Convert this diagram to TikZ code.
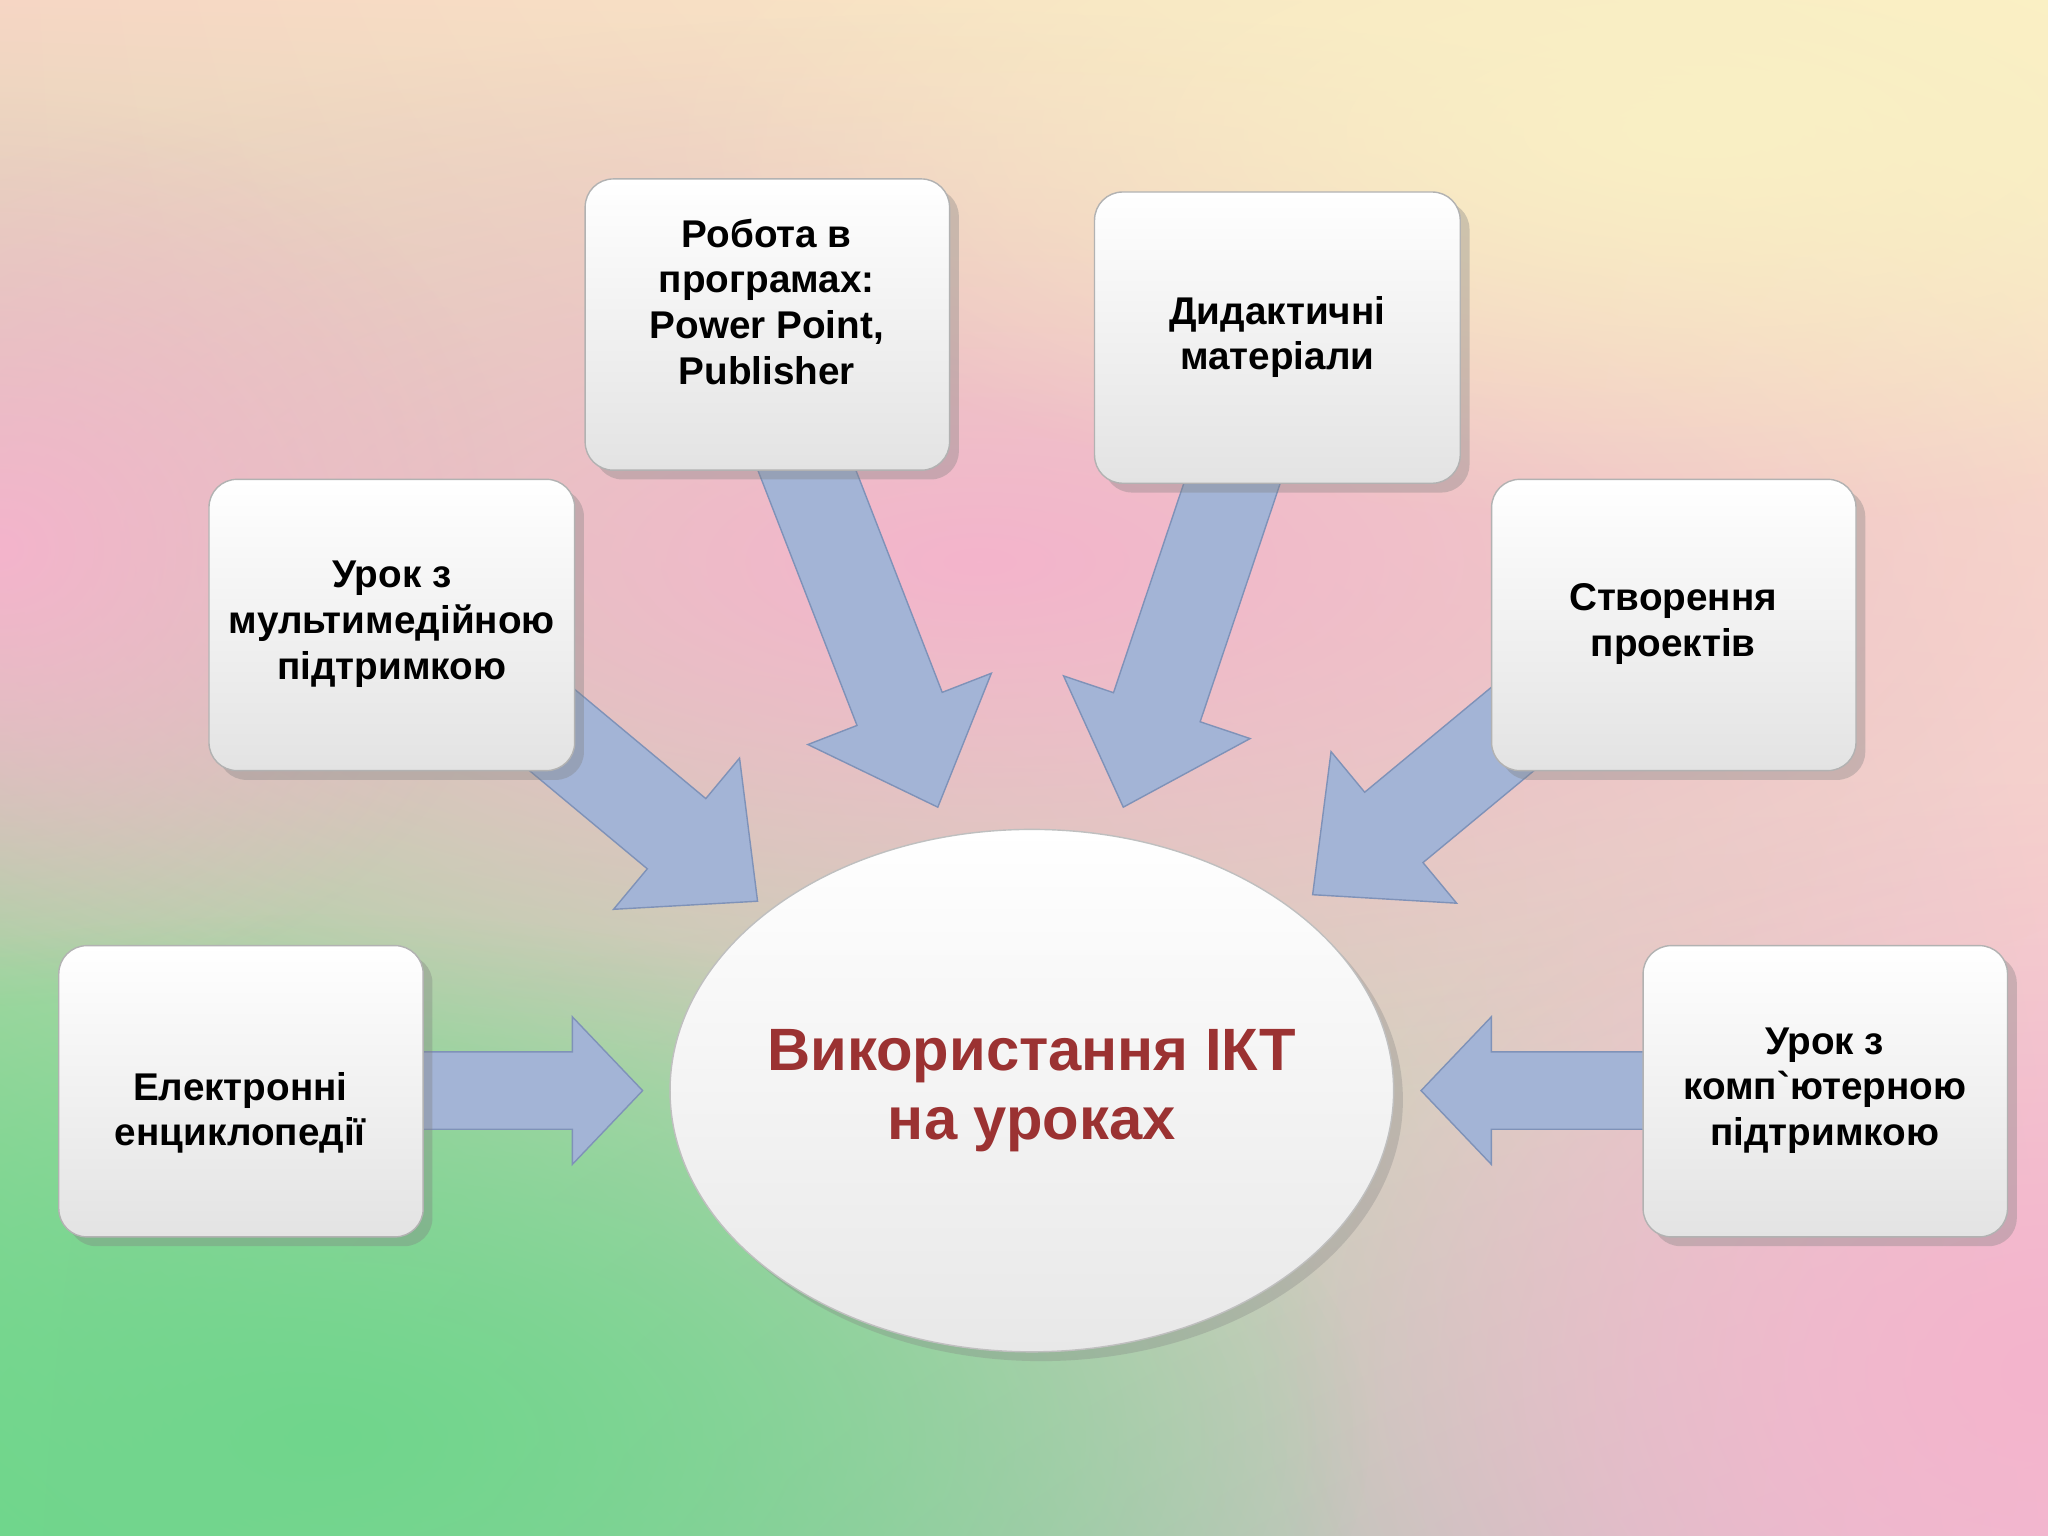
\documentclass[tikz,border=0pt]{standalone}
\usepackage{fontspec}
\setmainfont{Liberation Sans}
\usetikzlibrary{calc,shadows,shadings,fadings}
\definecolor{arr}{HTML}{A3B4D6}
\definecolor{arrd}{HTML}{7F92B8}
\definecolor{ttl}{HTML}{9B3232}
\definecolor{bgul}{HTML}{F6D6C4}
\definecolor{bgur}{HTML}{FAF0C4}
\definecolor{bgll}{HTML}{70D68C}
\definecolor{bglr}{HTML}{F0BED6}
\definecolor{bgpk}{HTML}{F4B4CC}
\tikzfading[name=soft, inner color=transparent!0, outer color=transparent!100]
\tikzset{
 px/.style={x=0.01306cm,y=-0.01306cm},
 box/.style={draw=gray!60,rounded corners=8pt,top color=white,bottom color=gray!22,drop shadow={opacity=0.35}},
 btxt/.style={font=\fontsize{11}{13}\selectfont\bfseries,align=center,text=black},
 barr/.style={fill=arr,draw=arrd,line width=0.4pt},
 glow/.style={fill=#1,path fading=soft,fit fading=true}
}
\newcommand{\blockarrow}[5]{% from, to, shaft half, head half, head length
 \path ($(#2)!#5!(#1)$) coordinate (hb);
 \draw[barr] ($(#1)!#3!90:(#2)$) -- ($(hb)!#3!90:(#2)$) -- ($(hb)!#4!90:(#2)$) -- (#2)
   -- ($(hb)!#4!-90:(#2)$) -- ($(hb)!#3!-90:(#2)$) -- ($(#1)!#3!-90:(#2)$) -- cycle;}
\begin{document}
\begin{tikzpicture}[px]
\useasboundingbox (0,0) rectangle (1568,1176);
\begin{scope}
\clip (0,0) rectangle (1568,1176);
\shade[upper left=bgul,upper right=bgur,lower left=bgll,lower right=bglr] (0,0) rectangle (1568,1176);
\fill[glow=bgpk] (750,430) ellipse [x radius=1100,y radius=420];
\fill[glow=bgpk] (0,420) ellipse [x radius=400,y radius=350];
\fill[glow=bgpk] (1568,1050) ellipse [x radius=600,y radius=450];
\fill[glow=bgll] (250,1100) ellipse [x radius=800,y radius=400];
\fill[glow=bgur] (1300,100) ellipse [x radius=800,y radius=300];
\end{scope}
% arrow anchors
\coordinate (a1s) at (300,835); \coordinate (a1e) at (492,835);
\coordinate (a2s) at (1280,835); \coordinate (a2e) at (1088,835);
\coordinate (a3s) at (400,540); \coordinate (a3e) at (580,690);
\coordinate (a4s) at (610,340); \coordinate (a4e) at (718,618);
\coordinate (a5s) at (950,350); \coordinate (a5e) at (860,618);
\coordinate (a6s) at (1180,540); \coordinate (a6e) at (1005,685);
\blockarrow{a1s}{a1e}{11pt}{21pt}{20pt}
\blockarrow{a2s}{a2e}{11pt}{21pt}{20pt}
\blockarrow{a3s}{a3e}{13pt}{28pt}{30pt}
\blockarrow{a4s}{a4e}{13pt}{28pt}{30pt}
\blockarrow{a5s}{a5e}{13pt}{28pt}{30pt}
\blockarrow{a6s}{a6e}{13pt}{28pt}{30pt}
% boxes
\draw[box] (448,137) rectangle (727,360);
\node[btxt] (b1) at (587,231) {Робота в\\програмах:\\Power Point,\\Publisher};
\draw[box] (838,147) rectangle (1118,370);
\node[btxt] (b2) at (978,258) {Дидактичні\\матеріали};
\draw[box] (160,367) rectangle (440,590);
\node[btxt] (b3) at (300,478) {Урок з\\мультимедійною\\підтримкою};
\draw[box] (1142,367) rectangle (1421,590);
\node[btxt] (b4) at (1281,478) {Створення\\проектів};
\draw[box] (45,724) rectangle (324,947);
\node[btxt] (b5) at (184,852) {Електронні\\енциклопедії};
\draw[box] (1258,724) rectangle (1537,947);
\node[btxt] (b6) at (1397,835) {Урок з\\комп\textasciigrave ютерною\\підтримкою};
% ellipse
\draw[draw=gray!50,top color=white,bottom color=gray!18,drop shadow={opacity=0.3}] (790,835) ellipse [x radius=277,y radius=200];
\node[font=\fontsize{17}{19.5}\selectfont\bfseries,text=ttl,align=center] (c) at (790,835) {Використання ІКТ\\на уроках};
\end{tikzpicture}
\end{document}
